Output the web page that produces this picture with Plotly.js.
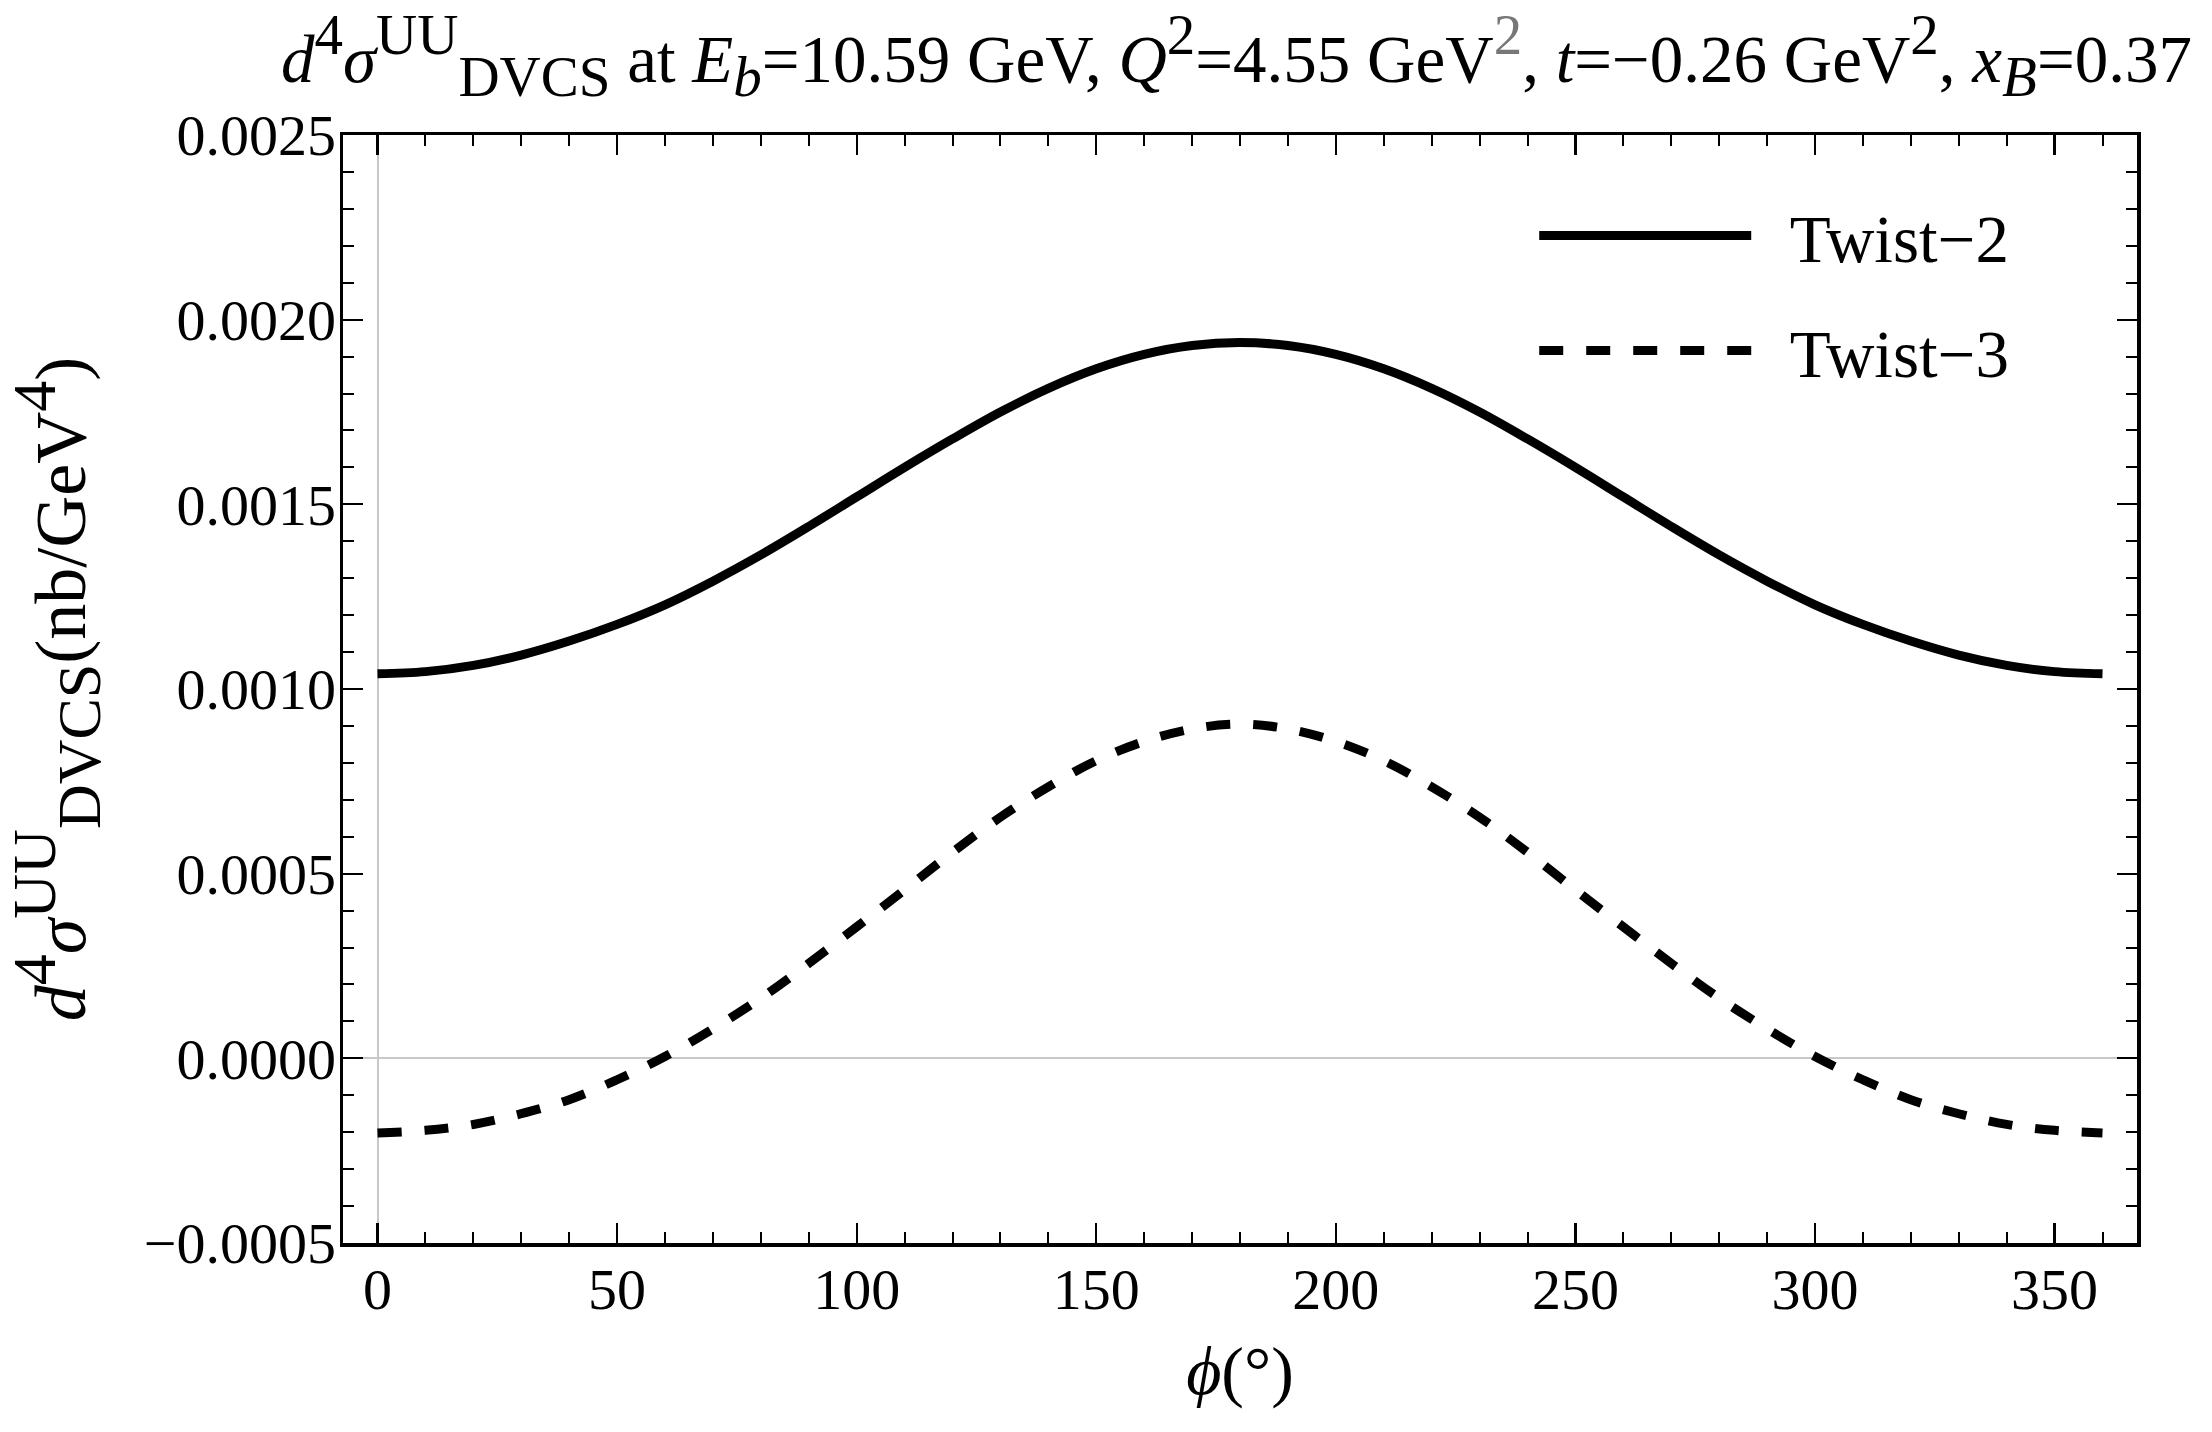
<!DOCTYPE html>
<html>
<head>
<meta charset="utf-8">
<script src="https://cdn.plot.ly/plotly-3.0.1.min.js"></script>
<style>
  html, body { margin: 0; padding: 0; background: #fff; }
  #chart { width: 2212px; height: 1432px; }
</style>
</head>
<body>
<div id="chart"></div>
<script>
// phi in degrees
const phi = [0, 10, 20, 30, 40, 50, 60, 70, 80, 90, 100, 110, 120, 130, 140, 150, 160, 170, 180,
  190, 200, 210, 220, 230, 240, 250, 260, 270, 280, 290, 300, 310, 320, 330, 340, 350, 360];

// d4sigma UU DVCS, nb/GeV^4
const twist2 = [0.001041, 0.001047, 0.001064, 0.001092, 0.001130, 0.001175, 0.001228, 0.001292, 0.001363,
  0.001440, 0.001520, 0.001600, 0.001677, 0.001750, 0.001814, 0.001867, 0.001906, 0.001930, 0.001938,
  0.001930, 0.001906, 0.001867, 0.001814, 0.001750, 0.001677, 0.001600, 0.001520, 0.001440, 0.001363,
  0.001292, 0.001228, 0.001175, 0.001130, 0.001092, 0.001064, 0.001047, 0.001041];

const twist3 = [-0.000202, -0.000195, -0.000179, -0.000150, -0.000112, -0.000058, 0.000005, 0.000080, 0.000163,
  0.000257, 0.000356, 0.000456, 0.000558, 0.000653, 0.000735, 0.000806, 0.000858, 0.000892, 0.000905,
  0.000892, 0.000858, 0.000806, 0.000735, 0.000653, 0.000558, 0.000456, 0.000356, 0.000257, 0.000163,
  0.000080, 0.000005, -0.000058, -0.000112, -0.000150, -0.000179, -0.000195, -0.000202];

const xTicks = [0, 50, 100, 150, 200, 250, 300, 350];
const yTicks = [-0.0005, 0.0000, 0.0005, 0.0010, 0.0015, 0.0020, 0.0025];

const FONT = '"Liberation Serif", "Times New Roman", serif';
// mathematica-style scripts are less shrunk than plotly's default 70%
const sup = (s, px) => '<sup><span style="font-size:' + px + 'px">' + s + '</span></sup>';
const sub = (s, px) => '<sub><span style="font-size:' + px + 'px">' + s + '</span></sub>';
const sigma = px => '<i>d</i>' + sup('4', px) + '<i>σ</i>' + sup('UU', px) + sub('DVCS', px);

const traces = [
  {
    x: phi, y: twist2, type: 'scatter', mode: 'lines', name: '\u00a0\u00a0Twist\u22122',
    line: { color: '#000', width: 9, shape: 'spline' }, legend: 'legend'
  },
  {
    x: phi, y: twist3, type: 'scatter', mode: 'lines', name: '\u00a0\u00a0Twist\u22123',
    line: { color: '#000', width: 9, shape: 'spline', dash: '24px,23px' }, legend: 'legend2'
  }
];

const axisCommon = {
  showline: true, mirror: 'ticks', linecolor: '#000', linewidth: 3.5,
  ticks: 'inside', ticklen: 20, tickwidth: 2.2, tickcolor: '#000',
  showgrid: false, zeroline: true, zerolinecolor: '#c8c8c8', zerolinewidth: 2,
  tickfont: { family: FONT, size: 58, color: '#000' }
};

const legendCommon = {
  xref: 'paper', yref: 'paper', xanchor: 'left', yanchor: 'middle',
  bgcolor: 'rgba(0,0,0,0)', borderwidth: 0, itemwidth: 212,
  font: { family: FONT, size: 67, color: '#000' }
};

const layout = {
  width: 2212, height: 1432,
  margin: { l: 343, r: 75, t: 135, b: 189, pad: 0 },
  paper_bgcolor: '#fff', plot_bgcolor: '#fff',
  showlegend: true,
  title: {
    text: sigma(57) + ' at <i>E</i>' + sub('<i>b</i>', 57) + '=10.59 GeV, <i>Q</i>' + sup('2', 57) +
      '=4.55 GeV' + sup('<span style="color:#777">2</span>', 57) + ', <i>t</i>=\u22120.26 GeV' + sup('2', 57) +
      ', <i>x</i>' + sub('<i>B</i>', 57) + '=0.37',
    font: { family: FONT, size: 67, color: '#000' },
    xref: 'container', x: 0.559, xanchor: 'center',
    yref: 'container', y: 0.959, yanchor: 'middle'
  },
  xaxis: Object.assign({}, axisCommon, {
    range: [-7.2, 367.2], tickvals: xTicks, ticktext: xTicks.map(String), ticklabelstandoff: -7,
    minor: { ticks: 'inside', ticklen: 11, tickwidth: 2, tickcolor: '#000', dtick: 10, tick0: 0 },
    title: { text: '<i>ϕ</i>(°)', font: { family: FONT, size: 68, color: '#000' }, standoff: 26 }
  }),
  yaxis: Object.assign({}, axisCommon, {
    range: [-0.0005, 0.0025], tickvals: yTicks, tickformat: '.4f', ticklabelstandoff: -8,
    minor: { ticks: 'inside', ticklen: 11, tickwidth: 2, tickcolor: '#000', dtick: 0.0001, tick0: 0 },
    title: {
      text: sigma(62) + '(nb/GeV' + sup('4', 62) + ')\u00a0\u00a0',
      font: { family: FONT, size: 72, color: '#000' }, standoff: 36
    }
  }),
  legend: Object.assign({}, legendCommon, { x: 0.664, y: 0.909 }),
  legend2: Object.assign({}, legendCommon, { x: 0.664, y: 0.805 })
};

Plotly.newPlot('chart', traces, layout, { displayModeBar: false, staticPlot: true });
</script>
</body>
</html>
